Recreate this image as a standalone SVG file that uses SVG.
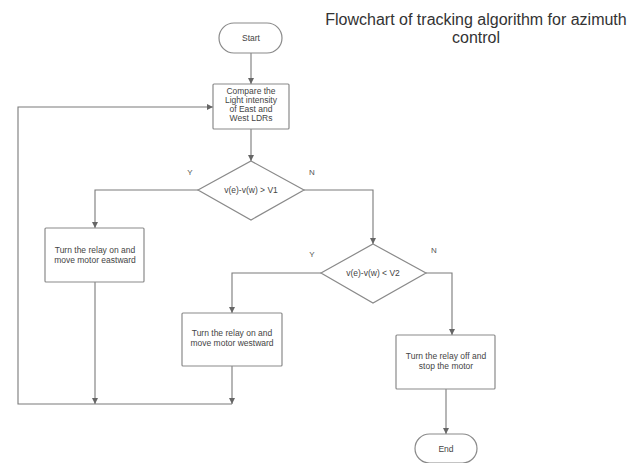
<svg xmlns="http://www.w3.org/2000/svg" width="643" height="463" viewBox="0 0 643 463">
<style>
.shape{fill:#fff;stroke:#8a8a8a;stroke-width:1.2}
.line{fill:none;stroke:#7a7a7a;stroke-width:1.1}
.t{font-family:"Liberation Sans",Arial,sans-serif;font-size:8.5px;fill:#444;text-anchor:middle}
.lbl{font-family:"Liberation Sans",Arial,sans-serif;font-size:8px;fill:#555;text-anchor:middle}
.title{font-family:"Liberation Sans",Arial,sans-serif;font-size:16px;fill:#333;text-anchor:middle}
</style>
<defs>
<marker id="ah" viewBox="0 0 8 8" refX="8" refY="4" markerWidth="6" markerHeight="6" orient="auto" markerUnits="userSpaceOnUse">
<path d="M0,0 L8,4 L0,8 z" fill="#666"/>
</marker>
</defs>
<rect width="643" height="463" fill="#fff"/>
<g id="title">
<text class="title" x="476" y="25">Flowchart of tracking algorithm for azimuth</text>
<text class="title" x="476" y="43">control</text>
</g>
<g id="connectors">
<path class="line" d="M251,53 V84" marker-end="url(#ah)"/>
<path class="line" d="M251,129 V161" marker-end="url(#ah)"/>
<path class="line" d="M198,190 H95 V228" marker-end="url(#ah)"/>
<path class="line" d="M304,190 H373 V244" marker-end="url(#ah)"/>
<path class="line" d="M321,273 H232 V313" marker-end="url(#ah)"/>
<path class="line" d="M426,273 H452 V335" marker-end="url(#ah)"/>
<path class="line" d="M446,389 V434" marker-end="url(#ah)"/>
<path class="line" d="M95,282 V404" marker-end="url(#ah)"/>
<path class="line" d="M232,366 V404" marker-end="url(#ah)"/>
<path class="line" d="M232,404 H18 V107 H213" marker-end="url(#ah)"/>
<text class="lbl" x="190" y="175">Y</text>
<text class="lbl" x="312" y="175">N</text>
<text class="lbl" x="312" y="257">Y</text>
<text class="lbl" x="434" y="253">N</text>
</g>
<g id="start">
<rect class="shape" x="219" y="23" width="63" height="30" rx="15"/>
<text class="t" x="251" y="41">Start</text>
</g>
<g id="compare">
<rect class="shape" x="213" y="84" width="76" height="45" rx="1"/>
<text class="t" x="251" y="94">Compare the</text>
<text class="t" x="251" y="103">Light intensity</text>
<text class="t" x="251" y="112">of East and</text>
<text class="t" x="251" y="121">West LDRs</text>
</g>
<g id="decision1">
<polygon class="shape" points="251,161 304,190 251,220 198,190"/>
<text class="t" x="251" y="193">v(e)-v(w) &gt; V1</text>
</g>
<g id="eastward">
<rect class="shape" x="45" y="228" width="99" height="54" rx="1"/>
<text class="t" x="95" y="253">Turn the relay on and</text>
<text class="t" x="95" y="263">move motor eastward</text>
</g>
<g id="decision2">
<polygon class="shape" points="373,244 426,273 373,303 321,273"/>
<text class="t" x="373" y="276">v(e)-v(w) &lt; V2</text>
</g>
<g id="westward">
<rect class="shape" x="182" y="313" width="100" height="53" rx="1"/>
<text class="t" x="232" y="336">Turn the relay on and</text>
<text class="t" x="232" y="346">move motor westward</text>
</g>
<g id="stop">
<rect class="shape" x="396" y="335" width="99" height="54" rx="1"/>
<text class="t" x="446" y="359">Turn the relay off and</text>
<text class="t" x="446" y="369">stop the motor</text>
</g>
<g id="end">
<rect class="shape" x="415" y="434" width="62" height="29" rx="14.5"/>
<text class="t" x="446" y="452">End</text>
</g>
</svg>
